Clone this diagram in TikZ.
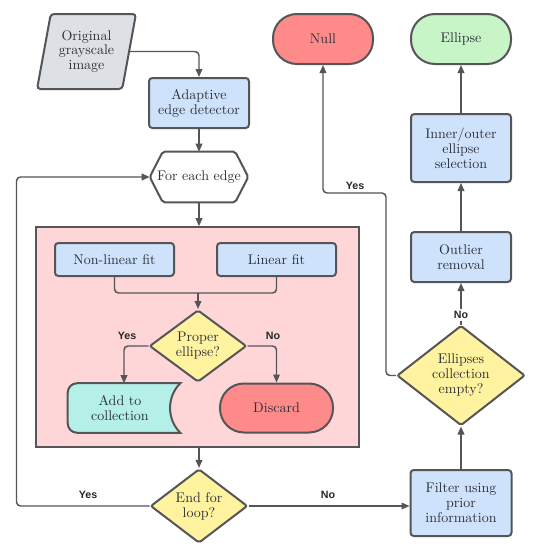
\documentclass[tikz,border=0pt]{standalone}
\usepackage{fontspec}
\newfontfamily\labfont{Liberation Sans}
\usetikzlibrary{shapes.geometric,arrows.meta}
\definecolor{strk}{RGB}{85,85,88}
\definecolor{txt}{RGB}{45,48,58}
\definecolor{blu}{RGB}{207,226,251}
\definecolor{gry}{RGB}{221,224,228}
\definecolor{yel}{RGB}{255,243,160}
\definecolor{pnk}{RGB}{255,214,216}
\definecolor{redf}{RGB}{255,138,138}
\definecolor{grn}{RGB}{200,245,200}
\definecolor{cyn}{RGB}{180,240,232}
\begin{document}
\begin{tikzpicture}[x=0.75pt,y=-0.75pt,
  tfont/.style={font=\fontsize{10.5}{11.2}\selectfont},
  base/.style={draw=strk, line width=1.5pt, text=txt, tfont, align=center, inner sep=0pt},
  proc/.style={base, rectangle, rounded corners=2.5pt, fill=blu},
  dec/.style={base, diamond, fill=yel, rounded corners=1.5pt},
  term/.style={base, rectangle, rounded corners=18pt},
  conn/.style={draw=strk, line width=1.1pt, rounded corners=3pt},
  arr/.style={conn, -{Triangle[length=6pt,width=5pt]}},
  yn/.style={font=\labfont\bfseries\fontsize{8}{9}\selectfont, text=black!85, inner sep=1pt}]
\useasboundingbox (0,0) rectangle (536,550);

% group background
\node[draw=strk, line width=1.2pt, fill=pnk, minimum width=242.25pt, minimum height=165pt, inner sep=0pt] (grp) at (197.5,337) {};

% left column
\node[base, trapezium, trapezium left angle=76, trapezium right angle=104, trapezium stretches=true,
      minimum width=74.25pt, minimum height=56.25pt, fill=gry, rounded corners=2.5pt] (orig) at (86.5,51.5) {Original\\grayscale\\image};
\node[proc, minimum width=75pt, minimum height=37.5pt] (adapt) at (199,103) {Adaptive\\edge detector};
\node[text=txt, tfont, inner sep=0pt, minimum width=73.5pt, minimum height=37.5pt] (hex) at (199,177) {For each edge};
\draw[draw=strk, line width=1.5pt, fill=white, rounded corners=1.5pt]
  (hex.west) -- ([xshift=9.75pt]hex.north west) -- ([xshift=-9.75pt]hex.north east) -- (hex.east)
  -- ([xshift=-9.75pt]hex.south east) -- ([xshift=9.75pt]hex.south west) -- cycle;
\node[text=txt, tfont, inner sep=0pt] at (hex) {For each edge};

\node[proc, minimum width=89.25pt, minimum height=24.75pt] (nl) at (114.5,259.5) {Non-linear fit};
\node[proc, minimum width=89.25pt, minimum height=24.75pt] (lf) at (276.5,259.5) {Linear fit};
\coordinate (m) at (198,293);
\node[dec, minimum width=72.75pt, minimum height=54pt] (pe) at (198,346) {Proper\\ellipse?};

\node[inner sep=0pt, minimum width=84pt, minimum height=36.75pt] (add) at (124,408) {};
\draw[draw=strk, line width=1.5pt, fill=cyn]
  (add.north) [rounded corners=7pt] -- (add.north west) -- (add.south west) -- (add.south)
  [sharp corners] -- (add.south east) to[bend left=45] (add.north east) -- cycle;
\node[text=txt, tfont, align=center, inner sep=0pt] at ([xshift=-3pt]add.center) {Add to\\collection};
\node[term, fill=redf, minimum width=84.75pt, minimum height=36.75pt] (disc) at (276.5,408) {Discard};

\node[dec, minimum width=72.75pt, minimum height=54pt] (endl) at (199,506) {End for\\loop?};

% right column
\node[term, fill=redf, minimum width=75pt, minimum height=37.5pt] (null) at (323,39) {Null};
\node[term, fill=grn, minimum width=75pt, minimum height=37.5pt] (ell) at (461,39) {Ellipse};
\node[proc, minimum width=75pt, minimum height=51pt] (inner) at (461,148) {Inner/outer\\ellipse\\selection};
\node[proc, minimum width=75pt, minimum height=37.5pt] (out) at (461,257) {Outlier\\removal};
\node[dec, minimum width=96pt, minimum height=63.75pt] (ece) at (461,375.5) {Ellipses\\collection\\empty?};
\node[proc, minimum width=75.75pt, minimum height=49.5pt] (filt) at (461,503) {Filter using\\prior\\information};
\coordinate (ybend) at (386,193);

% connectors
\draw[arr] (orig.east) -| (adapt.north);
\draw[arr] (adapt.south) -- (hex.north);
\draw[arr] (hex.south) -- (grp.north -| hex.south);
\draw[conn] (nl.south) |- (m);
\draw[conn] (lf.south) |- (m);
\draw[arr] (m) -- (pe.north);
\draw[arr] (pe.west) -| (add.north);
\draw[arr] (pe.east) -| (disc.north);
\draw[arr] (grp.south -| endl.north) -- (endl.north);
\draw[arr] (endl.west) -- ++(-133,0) |- (hex.west);
\draw[arr] (endl.east) -- (endl.east -| filt.west);
\draw[arr] (filt.north) -- (ece.south);
\draw[arr] (ece.north) -- (out.south);
\draw[arr] (out.north) -- (inner.south);
\draw[arr] (inner.north) -- (ell.south);
\draw[arr] (ece.west) -| (ybend) -| (null.south);

% labels
\node[yn] at (127,336) {Yes};
\node[yn] at (273,336) {No};
\node[yn] at (88,495) {Yes};
\node[yn] at (328,495) {No};
\node[yn, fill=white, inner ysep=2pt] at (461,315) {No};
\node[yn] at (355,186) {Yes};
\end{tikzpicture}
\end{document}
